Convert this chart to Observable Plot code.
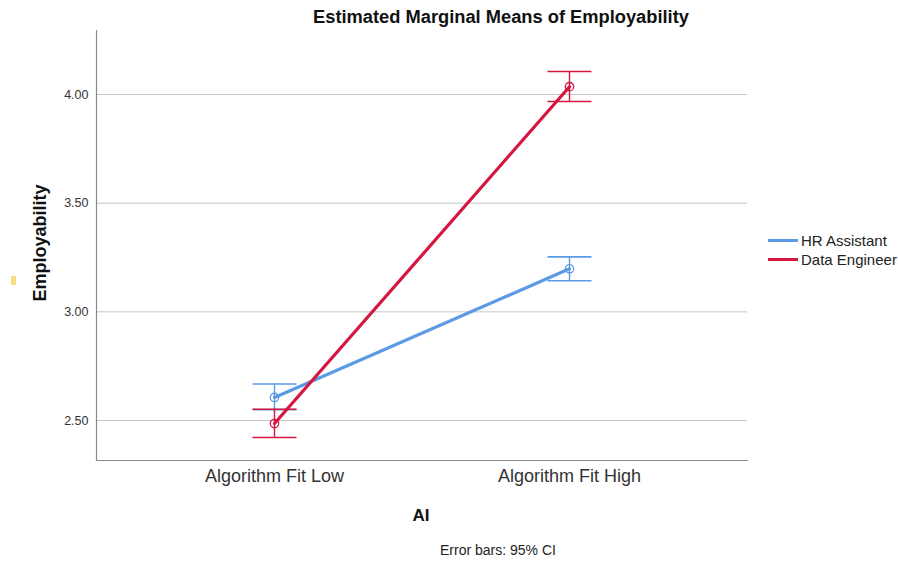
<!DOCTYPE html>
<html>
<head>
<meta charset="utf-8">
<script src="https://cdn.jsdelivr.net/npm/d3@7"></script>
<script src="https://cdn.jsdelivr.net/npm/@observablehq/plot@0.6"></script>
<style>
  html, body { margin: 0; padding: 0; background: #fff; overflow: hidden; }
  #wrap { position: relative; width: 898px; height: 564px; font-family: "Liberation Sans", Arial, sans-serif; }
  .abs { position: absolute; white-space: nowrap; color: #111; }
</style>
</head>
<body>
<div id="wrap"></div>
<script>
// ---- Data ----
const categories = ["Algorithm Fit Low", "Algorithm Fit High"];
const seriesNames = ["HR Assistant", "Data Engineer"];
const seriesColors = ["#5b9ae4", "#d5173f"];
const hrMean = [2.606, 3.198];
const hrLow = [2.550, 3.143];
const hrHigh = [2.668, 3.253];
const deMean = [2.486, 4.036];
const deLow = [2.422, 3.968];
const deHigh = [2.552, 4.106];
const yTicks = [2.5, 3.0, 3.5, 4.0];
const yDomain = [2.316, 4.2945];

const rows = [];
categories.forEach((c, i) => rows.push({ai: c, series: seriesNames[0], mean: hrMean[i], lo: hrLow[i], hi: hrHigh[i]}));
categories.forEach((c, i) => rows.push({ai: c, series: seriesNames[1], mean: deMean[i], lo: deLow[i], hi: deHigh[i]}));

const capSymbol = {
  draw(context, size) {
    const w = 22;
    context.moveTo(-w, 0);
    context.lineTo(w, 0);
  }
};

const marks = [
  Plot.ruleY(yTicks, {stroke: "#c6c6c6", strokeWidth: 1}),
  Plot.frame({anchor: "left", stroke: "#8a8a8a", strokeWidth: 1.2}),
  Plot.frame({anchor: "bottom", stroke: "#8a8a8a", strokeWidth: 1.2}),
  Plot.axisY({ticks: yTicks, tickFormat: d3.format(".2f"), tickSize: 0, tickPadding: 8, fontSize: 12.5, fill: "#333", label: null}),
  Plot.axisX({tickSize: 0, tickPadding: 9, fontSize: 18, fill: "#333", label: null})
];
seriesNames.forEach((s) => {
  const d = rows.filter(r => r.series === s);
  marks.push(
    Plot.line(d, {x: "ai", y: "mean", stroke: "series", strokeWidth: 3.2}),
    Plot.ruleX(d, {x: "ai", y1: "lo", y2: "hi", stroke: "series", strokeWidth: 1.4}),
    Plot.dot(d, {x: "ai", y: "lo", symbol: capSymbol, stroke: "series", strokeWidth: 1.6, fill: "none"}),
    Plot.dot(d, {x: "ai", y: "hi", symbol: capSymbol, stroke: "series", strokeWidth: 1.6, fill: "none"}),
    Plot.dot(d, {x: "ai", y: "mean", r: 4.2, stroke: "series", strokeWidth: 1.3, fill: "none"})
  );
});

const chart = Plot.plot({
  width: 898,
  height: 564,
  marginLeft: 96,
  marginRight: 151,
  marginTop: 30,
  marginBottom: 104,
  style: {background: "transparent", fontFamily: "'Liberation Sans', Arial, sans-serif"},
  x: {type: "point", domain: categories, padding: 0.6},
  y: {domain: yDomain},
  color: {domain: seriesNames, range: seriesColors},
  marks
});
const wrap = document.getElementById("wrap");
chart.style.position = "absolute";
chart.style.left = "0px";
chart.style.top = "0px";
wrap.appendChild(chart);

function addText(txt, css) {
  const el = document.createElement("div");
  el.className = "abs";
  el.textContent = txt;
  Object.assign(el.style, css);
  wrap.appendChild(el);
  return el;
}
// Title
addText("Estimated Marginal Means of Employability", {left: "501px", top: "17px", transform: "translate(-50%,-50%)", fontSize: "18.3px", fontWeight: "bold"});
// Y title
addText("Employability", {left: "40px", top: "243px", transform: "translate(-50%,-50%) rotate(-90deg)", fontSize: "18px", fontWeight: "bold"});
// X title
addText("AI", {left: "421px", top: "516px", transform: "translate(-50%,-50%)", fontSize: "17px", fontWeight: "bold"});
// Caption
addText("Error bars: 95% CI", {left: "498px", top: "550px", transform: "translate(-50%,-50%)", fontSize: "14px", color: "#222"});
// small yellow mark
const ym = document.createElement("div");
Object.assign(ym.style, {position: "absolute", left: "11px", top: "276px", width: "5px", height: "9px", background: "#f6dc84"});
wrap.appendChild(ym);
// Legend
seriesNames.forEach((s, i) => {
  const y = 240 + i * 19;
  const sw = document.createElement("div");
  Object.assign(sw.style, {position: "absolute", left: "768px", top: (y - 1.5) + "px", width: "30px", height: "3px", background: seriesColors[i]});
  wrap.appendChild(sw);
  addText(s, {left: "801px", top: y + "px", transform: "translateY(-50%)", fontSize: "15px", color: "#222"});
});
</script>
</body>
</html>
